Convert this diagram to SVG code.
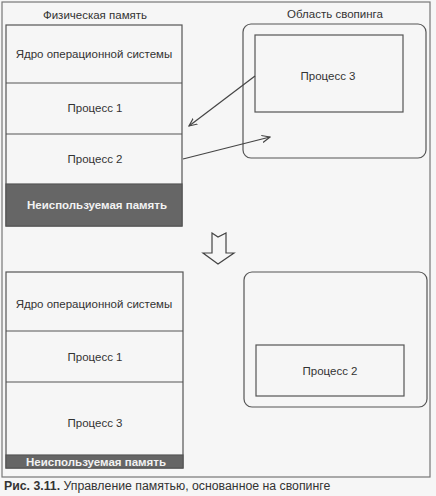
<svg xmlns="http://www.w3.org/2000/svg" width="436" height="496" viewBox="0 0 436 496">
<style>
.t{font-family:"Liberation Sans",Arial,sans-serif;font-size:11.5px;fill:#333;text-anchor:middle}
.b{font-family:"Liberation Sans",Arial,sans-serif;font-size:11.5px;font-weight:bold;fill:#f2f2f2;text-anchor:middle}
.box{fill:none;stroke:#555;stroke-width:1.2}
.dark{fill:#666;stroke:#555;stroke-width:1.2}
.ln{fill:none;stroke:#444;stroke-width:1.2}
</style>
<defs>
<marker id="ah" viewBox="0 0 10 10" refX="9" refY="5" markerWidth="9" markerHeight="9" orient="auto" markerUnits="userSpaceOnUse">
<path d="M0,1 L9,5 L0,9" fill="none" stroke="#444" stroke-width="1.3"/>
</marker>
</defs>
<rect x="0" y="0" width="436" height="496" fill="#f6f6f6"/>
<rect x="2" y="2" width="428" height="475" fill="none" stroke="#777" stroke-width="1.2"/>
<text class="t" x="95" y="18.5">Физическая память</text>
<text class="t" x="335" y="18">Область свопинга</text>
<g id="phys-top">
<rect class="box" x="6" y="25" width="176" height="201"/>
<line class="box" x1="6" y1="83" x2="182" y2="83"/>
<line class="box" x1="6" y1="134" x2="182" y2="134"/>
<rect class="dark" x="6" y="184" width="176" height="42"/>
<text class="t" x="94" y="58">Ядро операционной системы</text>
<text class="t" x="95" y="112">Процесс 1</text>
<text class="t" x="95" y="163">Процесс 2</text>
<text class="b" x="97" y="209">Неиспользуемая память</text>
</g>
<g id="swap-top">
<rect class="box" x="243" y="24" width="183" height="134" rx="8"/>
<rect class="box" x="255" y="35" width="148" height="77"/>
<text class="t" x="328" y="80">Процесс 3</text>
</g>
<g id="phys-bottom">
<rect class="box" x="6" y="272" width="177" height="196"/>
<line class="box" x1="6" y1="331" x2="183" y2="331"/>
<line class="box" x1="6" y1="382" x2="183" y2="382"/>
<rect class="dark" x="6" y="455" width="177" height="13"/>
<text class="t" x="94" y="308">Ядро операционной системы</text>
<text class="t" x="95" y="361">Процесс 1</text>
<text class="t" x="95" y="427">Процесс 3</text>
<text class="b" x="96" y="466">Неиспользуемая память</text>
</g>
<g id="swap-bottom">
<rect class="box" x="244" y="272" width="183" height="135" rx="8"/>
<rect class="box" x="256" y="345" width="148" height="51"/>
<text class="t" x="330" y="375">Процесс 2</text>
</g>
<g id="connectors">
<line class="ln" x1="255" y1="76" x2="189" y2="126" marker-end="url(#ah)"/>
<line class="ln" x1="183" y1="159" x2="270" y2="137" marker-end="url(#ah)"/>
<path class="ln" d="M212,233 L218,237 L226,233 L226,253 L234,253 L218,264 L203,253 L212,253 Z"/>
</g>
<text x="4" y="490" font-family="'Liberation Sans',Arial,sans-serif" font-size="12.3" fill="#333"><tspan font-weight="bold">Рис. 3.11.</tspan> Управление памятью, основанное на свопинге</text>
</svg>
